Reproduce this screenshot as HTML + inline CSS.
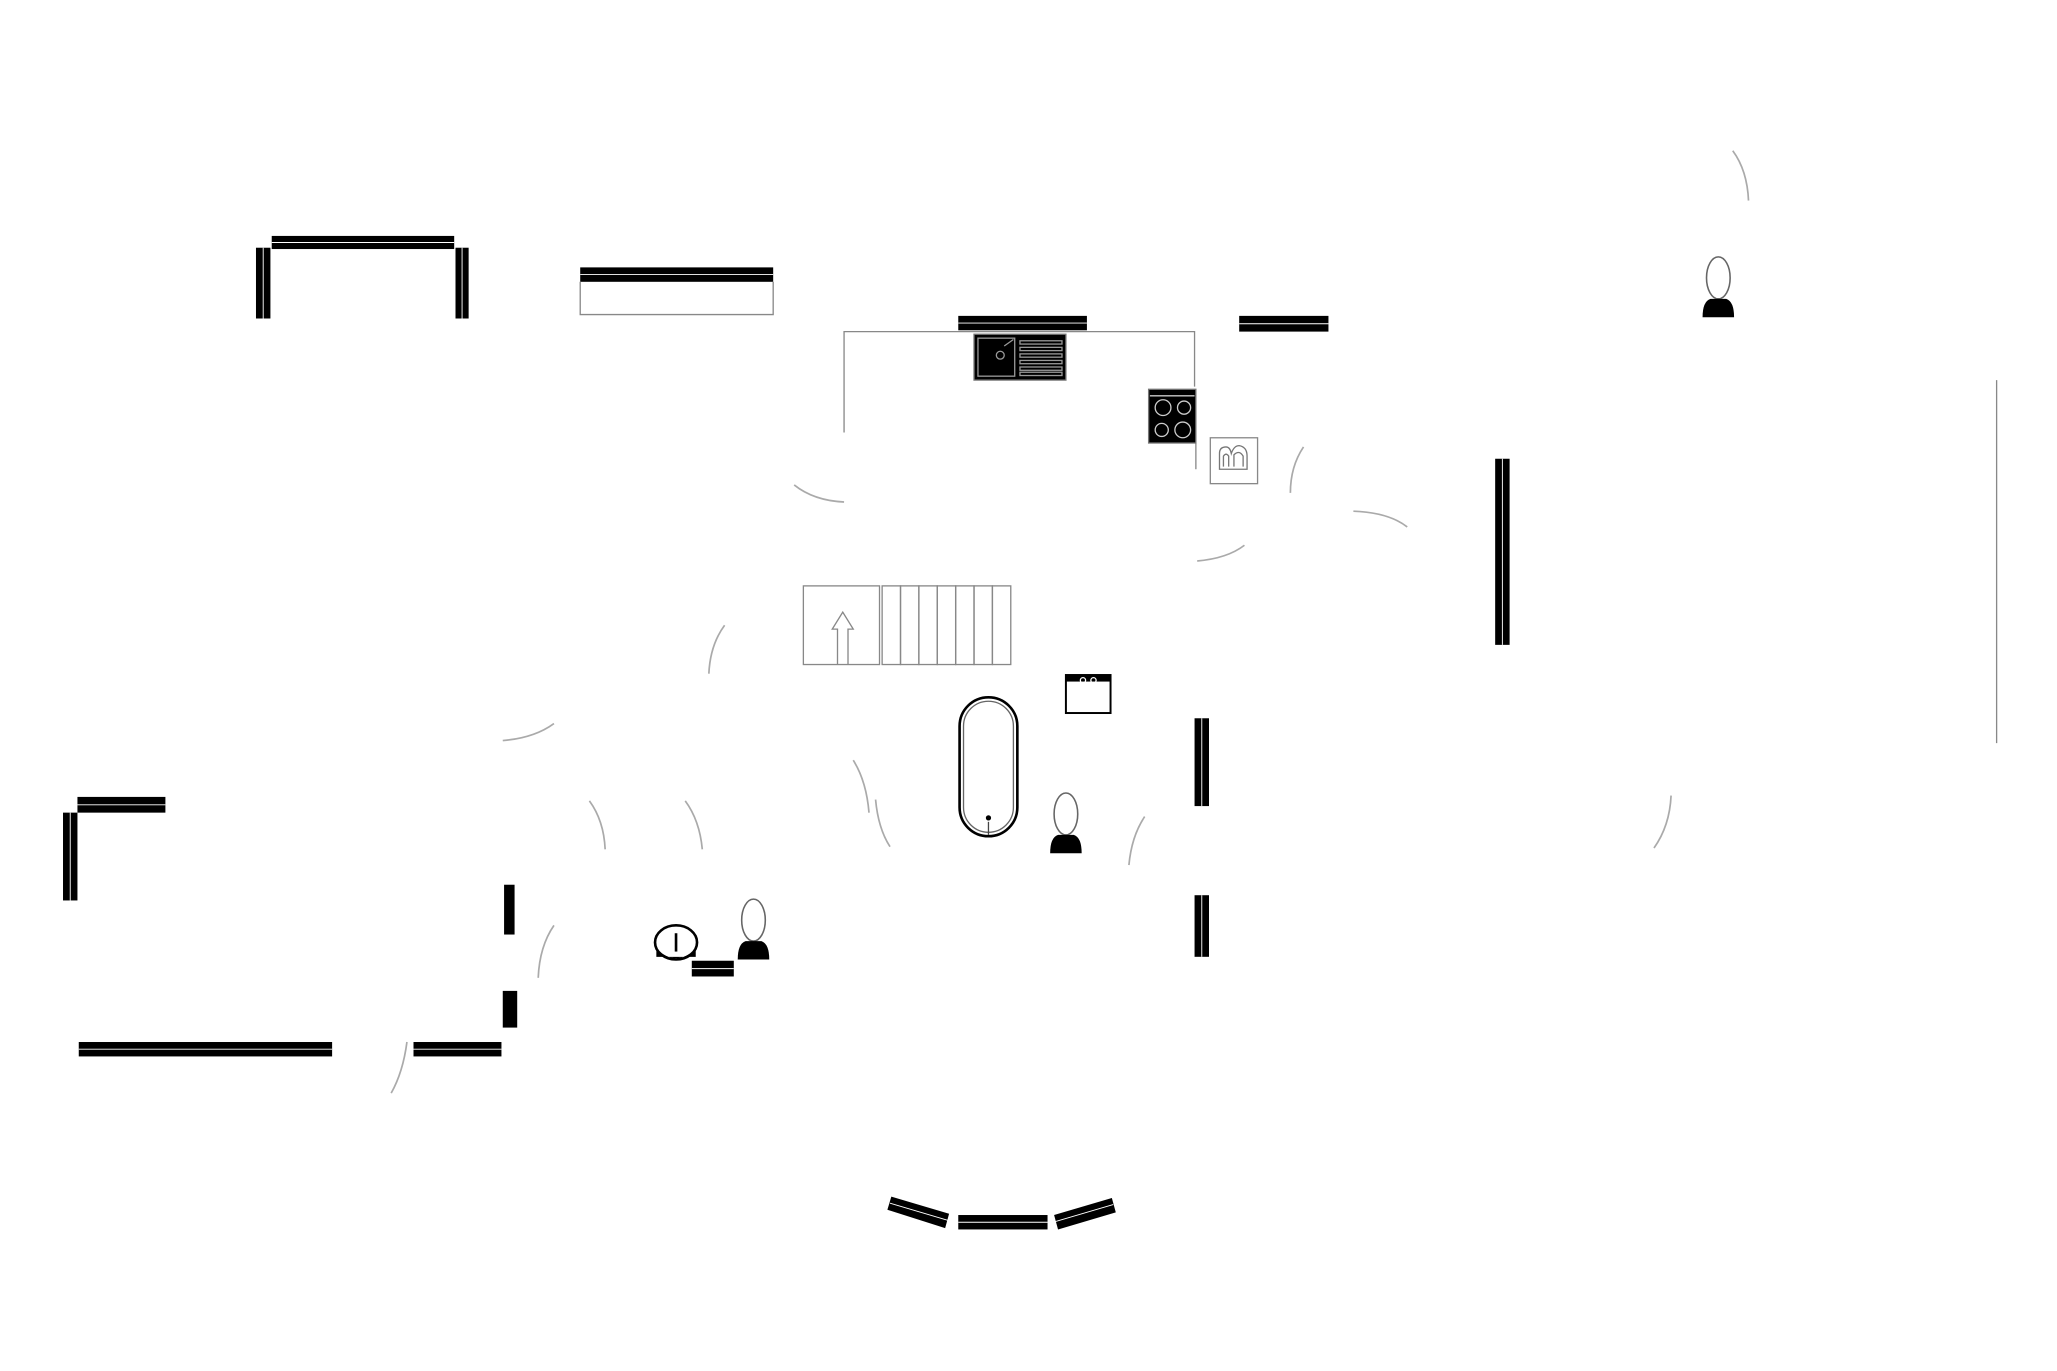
<!DOCTYPE html>
<html><head><meta charset="utf-8"><style>
html,body{margin:0;padding:0;background:#fff}
svg{display:block}
</style></head><body>
<svg width="2057" height="1371" viewBox="0 0 1567 1046" preserveAspectRatio="none" xmlns="http://www.w3.org/2000/svg">
<defs>
<g id="toilet">
<ellipse cx="0" cy="-14" rx="9" ry="16" fill="#fff" stroke="#666" stroke-width="1.2"/>
<path d="M-12,16 Q-12,4 -6,2 L6,2 Q12,4 12,16 Z" fill="#000"/>
</g>
</defs>
<rect width="1567" height="1046" fill="#fff"/>
<g fill="#000">
<rect x="207" y="180" width="139" height="10"/>
<rect x="195" y="189" width="11" height="54"/>
<rect x="347" y="189" width="10" height="54"/>
<rect x="442" y="204" width="147" height="11"/>
<rect x="730" y="241" width="98" height="11"/>
<rect x="944" y="241" width="68" height="12"/>
<rect x="1139" y="350" width="11" height="142"/>
<rect x="910" y="548" width="11" height="67"/>
<rect x="910" y="683" width="11" height="47"/>
<rect x="59" y="608" width="67" height="12"/>
<rect x="48" y="620" width="11" height="67"/>
<rect x="384" y="675" width="8" height="38"/>
<rect x="383" y="756" width="11" height="28"/>
<rect x="60" y="795" width="193" height="11"/>
<rect x="315" y="795" width="67" height="11"/>
<rect x="527" y="733" width="32" height="12"/>
<rect x="730" y="927" width="68" height="11"/>
<polygon points="679,913 723,926 720,937 676,923"/>
<polygon points="803,927 847,914 850,925 806,938"/>
</g>
<g stroke="#fff" stroke-width="0.7" fill="none">
<line x1="207" y1="185" x2="346" y2="185"/>
<line x1="200.5" y1="189" x2="200.5" y2="243"/>
<line x1="352" y1="189" x2="352" y2="243"/>
<line x1="442" y1="209.5" x2="589" y2="209.5"/>
<line x1="730" y1="246.5" x2="828" y2="246.5"/>
<line x1="944" y1="247" x2="1012" y2="247"/>
<line x1="1144.5" y1="350" x2="1144.5" y2="492"/>
<line x1="915.5" y1="548" x2="915.5" y2="615"/>
<line x1="915.5" y1="683" x2="915.5" y2="730"/>
<line x1="59" y1="614" x2="126" y2="614"/>
<line x1="53.5" y1="620" x2="53.5" y2="687"/>
<line x1="60" y1="800.5" x2="253" y2="800.5"/>
<line x1="315" y1="800.5" x2="382" y2="800.5"/>
<line x1="527" y1="739" x2="559" y2="739"/>
<line x1="730" y1="932.5" x2="798" y2="932.5"/>
<line x1="678" y1="918" x2="722" y2="931"/>
<line x1="804" y1="932" x2="848" y2="919"/>
</g>
<g stroke="#888" stroke-width="1" fill="none">
<polyline points="442,215 442,240 589,240 589,215"/>
<polyline points="643,330 643,253 910,253 910,295"/>
<line x1="911" y1="338" x2="911" y2="358"/>
<line x1="1521" y1="290" x2="1521" y2="567"/>
</g>
<g stroke="#aaa" stroke-width="1.3" fill="none">
<path d="M605,370 Q620,382 643,383"/>
<path d="M912,428 Q935,426 948,416"/>
<path d="M993,341 Q983,356 983,376"/>
<path d="M1031,390 Q1058,391 1072,402"/>
<path d="M1320,115 Q1331,130 1332,153"/>
<path d="M552,477 Q541,492 540,514"/>
<path d="M383,565 Q407,563 422,552"/>
<path d="M449,611 Q460,626 461,648"/>
<path d="M522,611 Q533,626 535,648"/>
<path d="M650,580 Q660,596 662,620"/>
<path d="M667,610 Q669,632 678,646"/>
<path d="M872,623 Q862,638 860,660"/>
<path d="M1273,607 Q1272,630 1260,647"/>
<path d="M422,706 Q411,722 410,746"/>
<path d="M310,795 Q307,818 298,834"/>
</g>
<rect x="742" y="255" width="70" height="35" fill="#000" stroke="#777"/>
<rect x="745" y="258" width="28" height="29" fill="none" stroke="#999"/>
<circle cx="762" cy="271" r="3" fill="none" stroke="#999"/>
<g stroke="#999" fill="none"><path d="M765,264 L772,259"/>
<rect x="777" y="260" width="32" height="2.5"/><rect x="777" y="265" width="32" height="2.5"/><rect x="777" y="270" width="32" height="2.5"/><rect x="777" y="275" width="32" height="2.5"/><rect x="777" y="280" width="32" height="2.5"/><rect x="777" y="284" width="32" height="2.5"/></g>
<rect x="875" y="297" width="36" height="41" fill="#000" stroke="#777"/>
<g stroke="#ccc" fill="none" stroke-width="1">
<line x1="876" y1="302" x2="910" y2="302"/>
<circle cx="886" cy="311" r="6"/><circle cx="902" cy="311" r="5"/>
<circle cx="885" cy="328" r="5"/><circle cx="901" cy="328" r="6"/></g>
<rect x="922" y="334" width="36" height="35" fill="#fff" stroke="#888"/>
<path d="M929,358 L929,346 Q929,341 934,341 Q937,341 938,346 Q940,340 944,340 Q950,341 950,348 L950,358 Z" fill="none" stroke="#777"/>
<path d="M932,356 L932,348 Q934,345 936,348 L936,356 M940,356 L940,347 Q944,343 947,348 L947,356" fill="none" stroke="#777"/>
<g fill="none" stroke="#888" stroke-width="1">
<rect x="612" y="447" width="58" height="60"/>
<rect x="672" y="447" width="14" height="60"/><rect x="686" y="447" width="14" height="60"/>
<rect x="700" y="447" width="14" height="60"/><rect x="714" y="447" width="14" height="60"/>
<rect x="728" y="447" width="14" height="60"/><rect x="742" y="447" width="14" height="60"/>
<rect x="756" y="447" width="14" height="60"/>
<polyline points="638,507 638,480 634,480 642,467 650,480 646,480 646,507"/>
</g>
<rect x="812" y="515" width="34" height="29" fill="#fff" stroke="#000" stroke-width="1.5"/>
<rect x="812" y="515" width="34" height="5" fill="#000"/>
<circle cx="825" cy="519" r="2" fill="none" stroke="#fff"/><circle cx="833" cy="519" r="2" fill="none" stroke="#fff"/>
<rect x="731" y="532" width="44" height="106" rx="22" fill="#fff" stroke="#000" stroke-width="2"/>
<rect x="734" y="535" width="38" height="100" rx="19" fill="none" stroke="#666" stroke-width="1"/>
<circle cx="753" cy="624" r="2" fill="#000"/>
<line x1="753" y1="627" x2="753" y2="637" stroke="#444"/>
<use href="#toilet" transform="translate(812,635)"/>
<use href="#toilet" transform="translate(1309,226)"/>
<use href="#toilet" transform="translate(574,716)"/>
<ellipse cx="515" cy="719" rx="16" ry="13" fill="#fff" stroke="#000" stroke-width="2"/>
<path d="M500,724 Q515,738 530,724 L530,730 L500,730 Z" fill="#000"/>
<line x1="515" y1="712" x2="515" y2="726" stroke="#000" stroke-width="2"/>
</svg>
</body></html>
